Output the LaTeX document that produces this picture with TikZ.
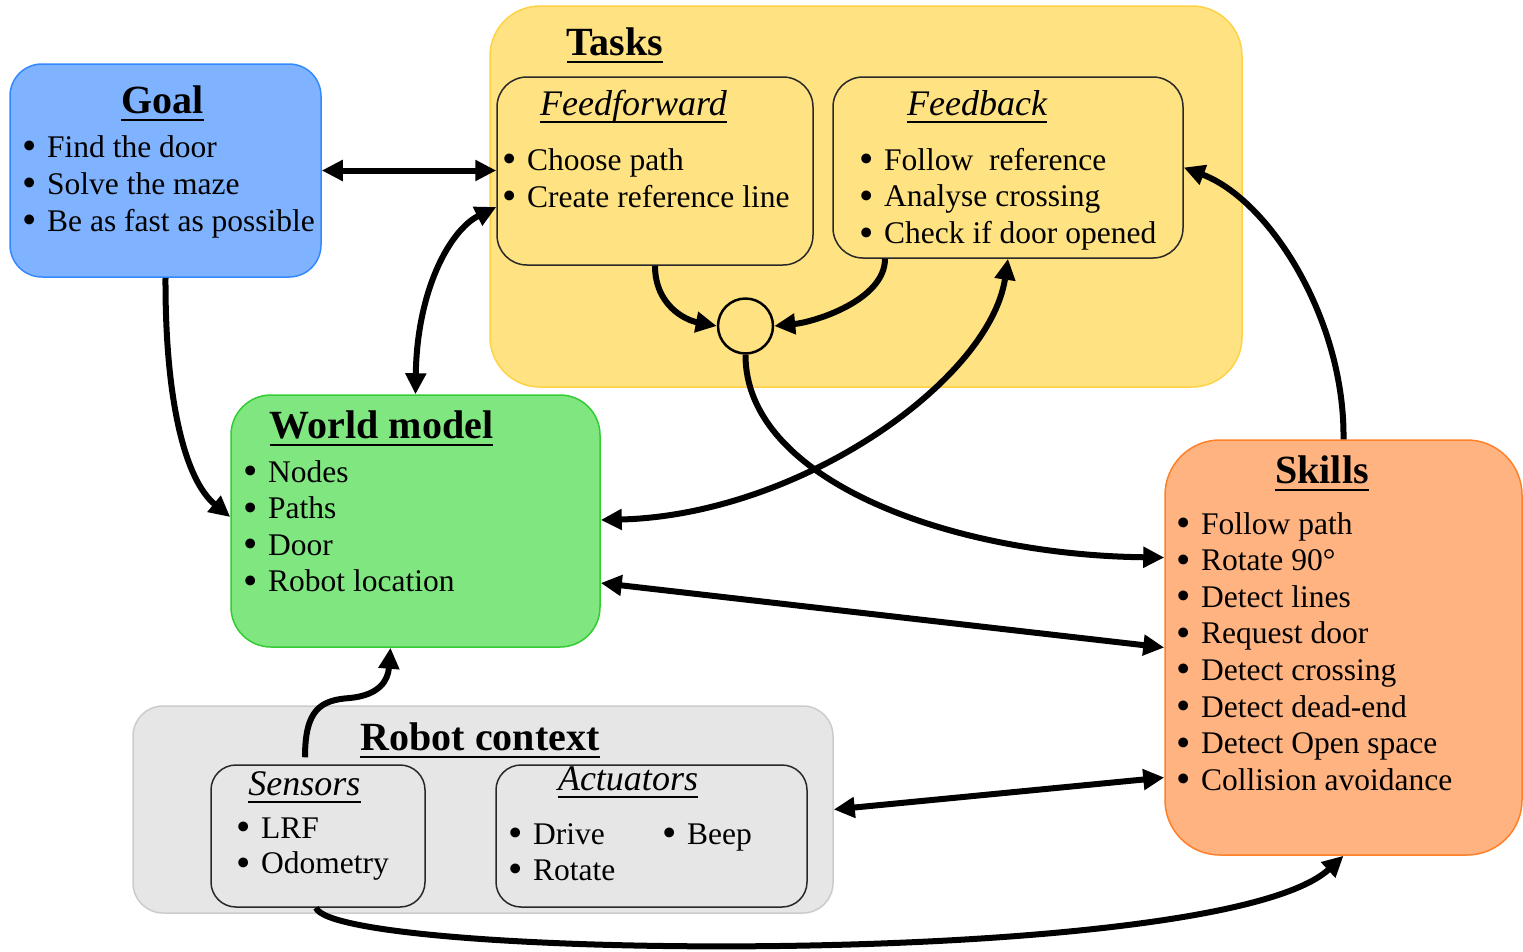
\documentclass[tikz,border=0pt]{standalone}
\usepackage{fontspec}
\setmainfont{Liberation Serif}
\usetikzlibrary{arrows.meta,calc}
\definecolor{goalF}{RGB}{128,179,255}
\definecolor{goalD}{RGB}{51,136,255}
\definecolor{taskF}{RGB}{255,226,130}
\definecolor{taskD}{RGB}{255,210,70}
\definecolor{wmF}{RGB}{128,230,128}
\definecolor{wmD}{RGB}{51,204,51}
\definecolor{skF}{RGB}{255,179,128}
\definecolor{skD}{RGB}{255,128,40}
\definecolor{rcF}{RGB}{230,230,230}
\definecolor{rcD}{RGB}{204,204,204}
\definecolor{inD}{RGB}{40,40,40}
\newcommand{\itemlist}[5]{%
  \foreach \itx [count=\i] in {#5}{%
    \node[itm] (#1\i) at (#2,{#3+(\i-1)*#4}) {\makebox[24.5pt][l]{\raisebox{-2.5pt}{\scalebox{1.3}{\textbullet}}}\itx};
  }}
\newcommand{\ttl}[5]{%
  \node[ttlnode, font=#4] (#1) at (#2,#3) {#5};
  \draw[uline] ([yshift=-7pt]#1.base west) -- ([yshift=-7pt]#1.base east);}
\begin{document}
\begin{tikzpicture}[x=1pt,y=-1pt,
  box/.style={draw, line width=1.5pt, inner sep=0pt},
  itm/.style={anchor=base west, inner sep=0pt, text height=22pt, text depth=7pt, font=\fontsize{31.5}{37}\selectfont},
  ttlnode/.style={anchor=base, inner sep=0pt},
  uline/.style={line width=2.5pt},
  arr/.style={line width=6pt, -{Triangle[length=21pt,width=20pt]}},
  darr/.style={line width=6pt, {Triangle[length=21pt,width=20pt]}-{Triangle[length=21pt,width=20pt]}}]
\useasboundingbox (0,0) rectangle (1523,951);
% boxes
\node[box, fill=taskF, draw=taskD, rounded corners=50pt, minimum width=752pt, minimum height=381pt] (tasks) at (866,196.5) {};
\node[box, fill=taskF, draw=inD, rounded corners=30pt, minimum width=316pt, minimum height=188pt] (ff) at (655,171) {};
\node[box, fill=taskF, draw=inD, rounded corners=30pt, minimum width=350pt, minimum height=181pt] (fb) at (1008,167.5) {};
\node[circle, draw, line width=2.5pt, fill=taskF, minimum size=55pt, inner sep=0pt] (circ) at (745.5,326) {};
\node[box, fill=goalF, draw=goalD, rounded corners=32pt, minimum width=311pt, minimum height=213pt] (goal) at (165.5,170.5) {};
\node[box, fill=wmF, draw=wmD, rounded corners=40pt, minimum width=369pt, minimum height=252pt] (wm) at (415.5,521) {};
\node[box, fill=skF, draw=skD, rounded corners=55pt, minimum width=357pt, minimum height=415pt] (skills) at (1343.5,647.5) {};
\node[box, fill=rcF, draw=rcD, rounded corners=30pt, minimum width=700pt, minimum height=207pt] (robot) at (483,809.5) {};
\node[box, fill=rcF, draw=inD, rounded corners=25pt, minimum width=214pt, minimum height=142pt] (sensors) at (318,836) {};
\node[box, fill=rcF, draw=inD, rounded corners=25pt, minimum width=311pt, minimum height=142pt] (act) at (651.5,836) {};
% titles
\ttl{goalT}{162.5}{113}{\fontsize{40}{44}\selectfont\bfseries}{Goal}
\ttl{tasksT}{615}{55}{\fontsize{40}{44}\selectfont\bfseries}{Tasks}
\ttl{wmT}{381.5}{438}{\fontsize{40}{44}\selectfont\bfseries}{World model}
\ttl{skT}{1322}{483}{\fontsize{40}{44}\selectfont\bfseries}{Skills}
\ttl{rcT}{480}{750}{\fontsize{40}{44}\selectfont\bfseries}{Robot context}
\ttl{ffT}{633.5}{115}{\fontsize{36}{40}\selectfont\itshape}{Feedforward}
\ttl{fbT}{977}{115}{\fontsize{36}{40}\selectfont\itshape}{Feedback}
\ttl{seT}{304.5}{795}{\fontsize{36}{40}\selectfont\itshape}{Sensors}
\ttl{acT}{628}{790}{\fontsize{36}{40}\selectfont\itshape}{Actuators}
% items
\itemlist{gI}{22.5}{157}{37}{Find the door,Solve the maze,Be as fast as possible}
\itemlist{ffI}{502.5}{170}{37}{Choose path,Create reference line}
\itemlist{fbI}{859.5}{170}{36.75}{Follow\ \ reference,Analyse crossing,Check if door opened}
\itemlist{wmI}{243.5}{482}{36.6}{Nodes,Paths,Door,Robot location}
\itemlist{skI}{1176.5}{534}{36.6}{Follow path,Rotate 90°,Detect lines,Request door,Detect crossing,Detect dead-end,Detect Open space,Collision avoidance}
\itemlist{seI}{236.5}{838}{35.5}{LRF,Odometry}
\itemlist{acI}{508.5}{844}{36}{Drive,Rotate}
\itemlist{acJ}{662.5}{844}{36}{Beep}
% connectors
\draw[darr] (goal.east) -- (goal.east -| ff.west);
\draw[darr] (wm.north) .. controls (417,290) and (450,230) .. ([yshift=-36pt]ff.west);
\draw[arr] (goal.south) .. controls (165,400) and (185,480) .. ([yshift=4pt]wm.west);
\draw[arr] (ff.south) .. controls (655,305) and (685,320) .. (circ.west);
\draw[arr] ([xshift=-123pt]fb.south) .. controls (885,300) and (815,322) .. (circ.east);
\draw[arr] (circ.south) .. controls (745,480) and (950,555) .. ([yshift=90pt]skills.west);
\draw[darr] ([yshift=1pt]wm.east) .. controls (800,515) and (990,380) .. (fb.south);
\draw[darr] ([yshift=-62pt]wm.east) -- (skills.west);
\draw[arr] (skills.north) .. controls (1345,320) and (1270,200) .. (fb.east);
\draw[darr] (robot.east) -- ([yshift=-130pt]skills.west);
\draw[arr] ([shift={(-13pt,7pt)}]sensors.north) .. controls (305,710) and (320,700) .. (350,698) .. controls (380,695) and (388,680) .. ([xshift=-25pt]wm.south);
\draw[arr] ([xshift=-2pt]sensors.south) .. controls (335,960) and (1220,970) .. (skills.south);
\end{tikzpicture}
\end{document}
